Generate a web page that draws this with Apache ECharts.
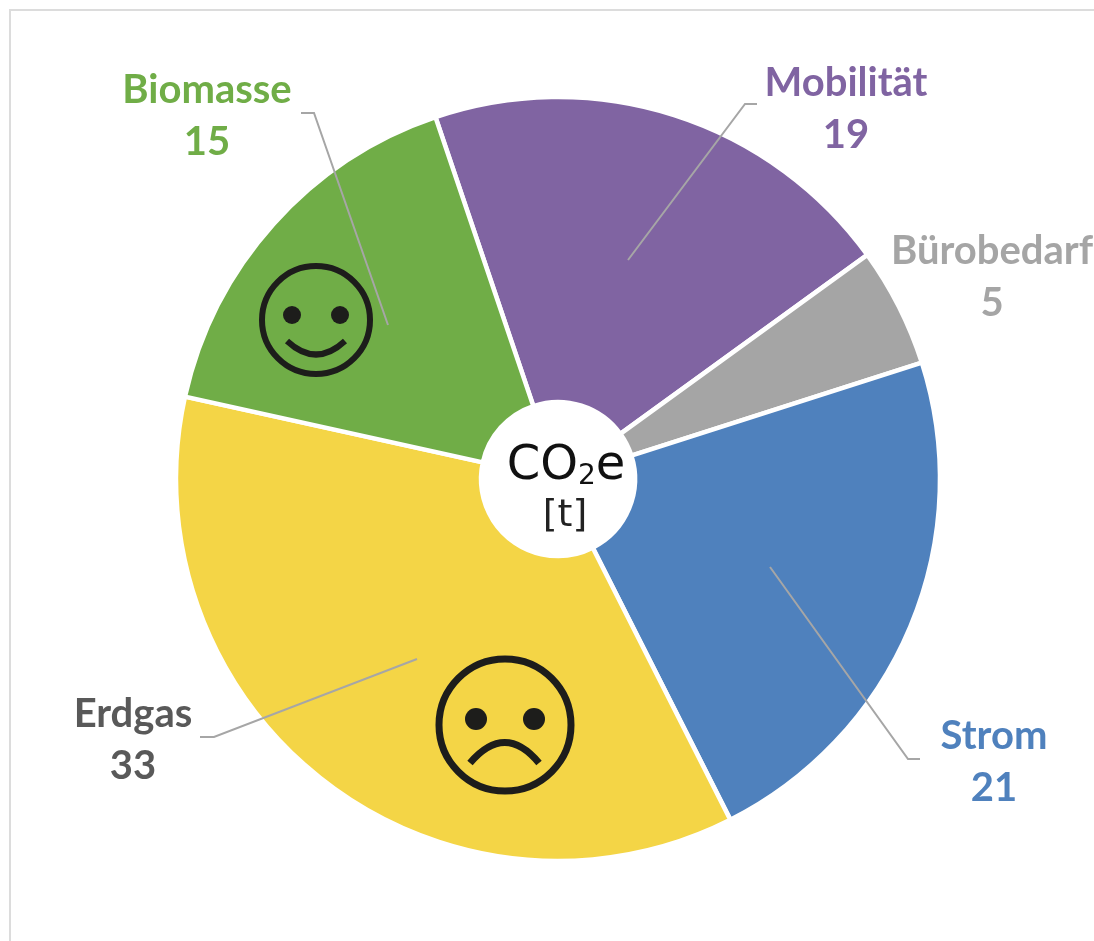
<!DOCTYPE html>
<html>
<head>
<meta charset="utf-8">
<style>
html, body { margin: 0; padding: 0; background: #fff; }
#chart { width: 1094px; height: 941px; }
</style>
<script src="https://cdn.jsdelivr.net/npm/echarts@6/dist/echarts.min.js"></script>
</head>
<body>
<div id="chart"></div>
<script>
var categories = ['Mobilität', 'Bürobedarf', 'Strom', 'Erdgas', 'Biomasse'];
// unrounded shares, labels show them rounded
var values = [18.8, 4.7, 20.9, 33.4, 15.2];
var sliceColors = ['#8064a2', '#a5a5a5', '#4f81bd', '#f4d546', '#70ad47'];
var labelColors = ['#8064a2', '#a5a5a5', '#4f81bd', '#595959', '#70ad47'];
var labelX = [846, 992, 994, 133, 207];
var labelY = [109, 277, 762, 740, 116];
/*leader lines run from the label into the slice*/
var leaders = [
    [[757, 104], [745, 104], [628, 260]],
    [[920, 759], [908, 759], [770, 567]],
    [[200, 737], [214, 737], [417, 659]],
    [[301, 113], [314, 113], [388, 325]]
];

var myChart = echarts.init(document.getElementById('chart'));

var faceColor = '#1d1d1b';

function face(cx, cy, r, lineWidth, eyeDx, eyeDy, eyeR, mouth) {
    return [
        {type: 'circle', z: 10, shape: {cx: cx, cy: cy, r: r}, style: {fill: 'none', stroke: faceColor, lineWidth: lineWidth}},
        {type: 'circle', z: 10, shape: {cx: cx - eyeDx, cy: cy + eyeDy, r: eyeR}, style: {fill: faceColor}},
        {type: 'circle', z: 10, shape: {cx: cx + eyeDx, cy: cy + eyeDy, r: eyeR}, style: {fill: faceColor}},
        {type: 'bezierCurve', z: 10, shape: mouth, style: {fill: 'none', stroke: faceColor, lineWidth: lineWidth}}
    ];
}

var graphics = [
    // chart frame, only left and top are visible
    {type: 'polyline', shape: {points: [[10, 941], [10, 10], [1094, 10]]}, style: {fill: 'none', stroke: '#dcdcdc', lineWidth: 2}},
    {
        type: 'text',
        z: 10,
        style: {
            x: 566,
            y: 463,
            text: '{big|CO}{sub|2}{big|e}',
            align: 'center',
            verticalAlign: 'middle',
            fill: '#111',
            rich: {
                big: {font: '48px "DejaVu Sans"', fill: '#111', lineHeight: 56, verticalAlign: 'bottom'},
                sub: {font: '28px "DejaVu Sans"', fill: '#111', lineHeight: 56, verticalAlign: 'bottom'}
            }
        }
    },
    {type: 'text', z: 10, style: {x: 565, y: 516, text: '[t]', align: 'center', verticalAlign: 'middle', fill: '#222', font: '38px "DejaVu Sans"'}}
];
leaders.forEach(function (points) {
    graphics.push({type: 'polyline', z: 10, shape: {points: points}, style: {fill: 'none', stroke: '#a6a6a6', lineWidth: 2}});
});
graphics = graphics.concat(
    face(316, 320, 54, 6, 24, -5, 9, {x1: 287, y1: 341, cpx1: 316, cpy1: 368, x2: 345, y2: 341}),
    face(505, 725, 66, 7, 29, -6, 11, {x1: 470, y1: 763, cpx1: 505, cpy1: 722, x2: 539, y2: 763})
);

var pieData = categories.map(function (name, i) {
    return {
        name: name,
        value: values[i],
        itemStyle: {color: sliceColors[i]},
        label: {color: labelColors[i]}
    };
});

var option = {
    backgroundColor: '#fff',
    animation: false,
    graphic: graphics,
    series: [
        {
            type: 'pie',
            center: [558, 479],
            radius: [77, 382],
            startAngle: 108.7,
            silent: true,
            itemStyle: {
                borderColor: '#fff',
                borderWidth: 4.5
            },
            label: {
                show: true,
                formatter: function (params) {
                    return params.name + '\n' + Math.round(params.value);
                },
                fontFamily: 'Lato',
                fontWeight: 'bold',
                fontSize: 40,
                lineHeight: 52,
                overflow: 'none',
                align: 'center'
            },
            labelLine: {show: false},
            labelLayout: function (params) {
                return {
                    x: labelX[params.dataIndex],
                    y: labelY[params.dataIndex],
                    align: 'center',
                    verticalAlign: 'middle'
                };
            },
            data: pieData
        }
    ]
};
myChart.setOption(option);
</script>
</body>
</html>
